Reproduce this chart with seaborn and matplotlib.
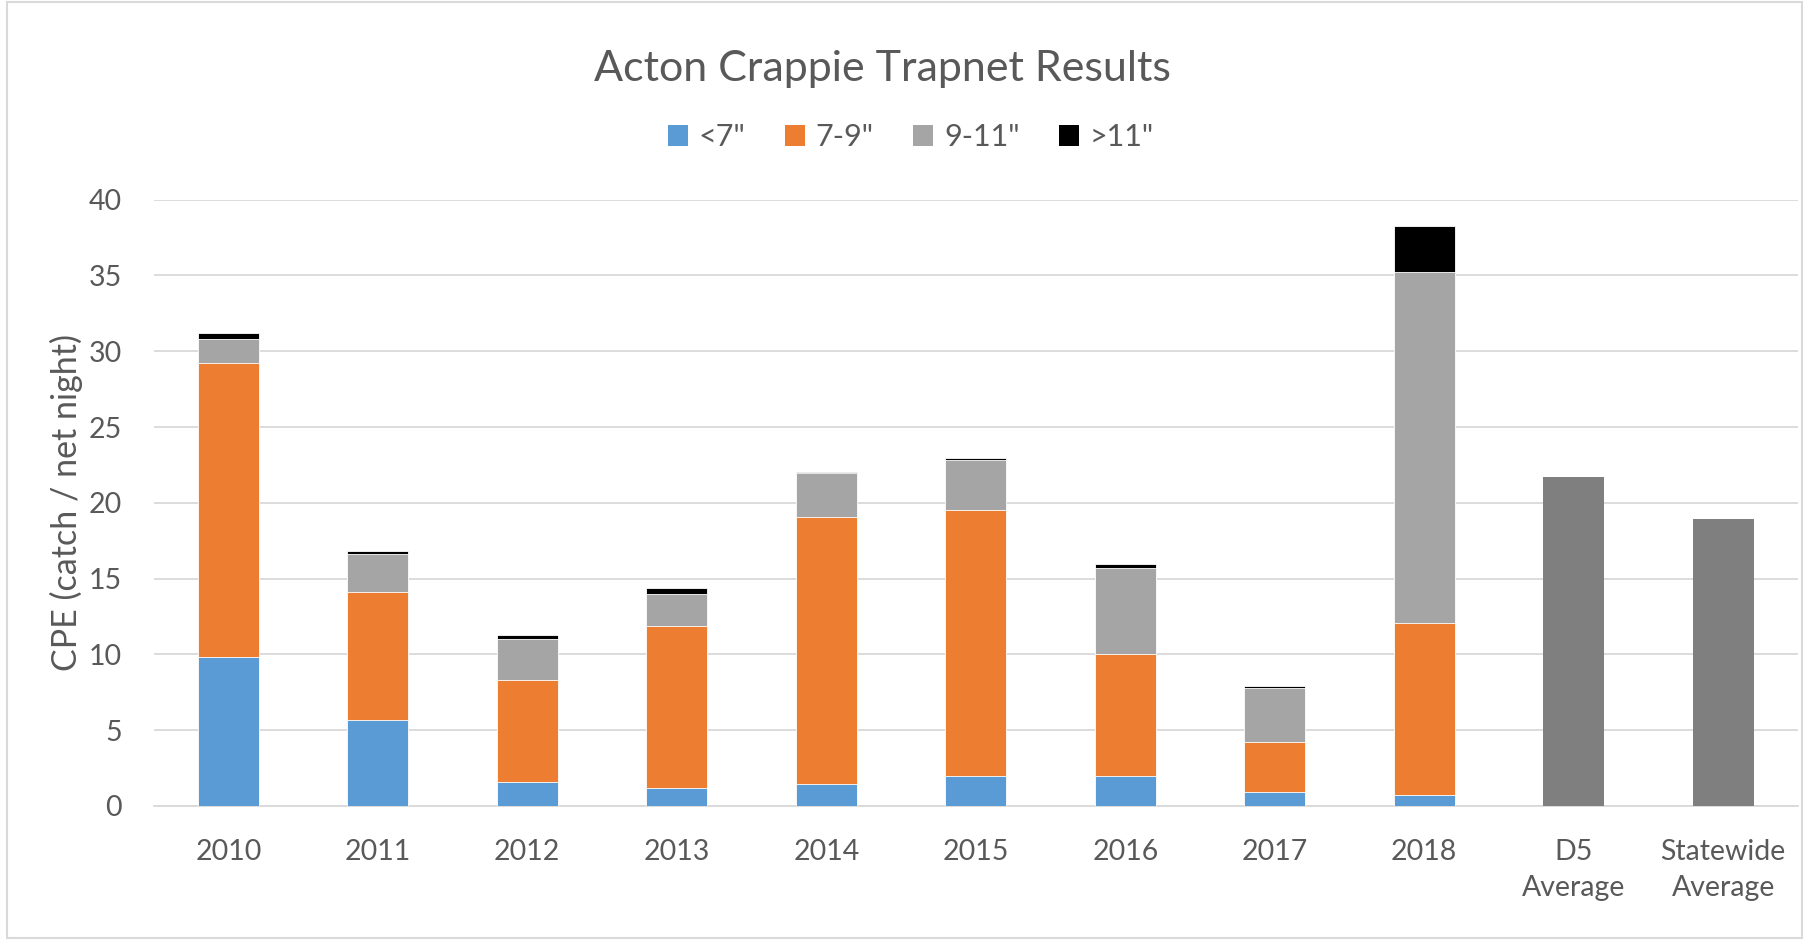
import numpy as np
import pandas as pd
import matplotlib
matplotlib.use("Agg")
import matplotlib.pyplot as plt
from matplotlib.patches import Patch, Rectangle
import seaborn as sns

categories = ["2010", "2011", "2012", "2013", "2014", "2015", "2016", "2017", "2018",
              "D5\nAverage", "Statewide\nAverage"]
years = ["2010", "2011", "2012", "2013", "2014", "2015", "2016", "2017", "2018"]
under7 = [9.8, 5.7, 1.6, 1.2, 1.45, 2.0, 2.0, 0.9, 0.7]
s7_9 = [19.4, 8.4, 6.7, 10.7, 17.6, 17.55, 8.0, 3.3, 11.35]
s9_11 = [1.6, 2.5, 2.7, 2.1, 2.9, 3.3, 5.7, 3.6, 23.2]
over11 = [0.4, 0.2, 0.25, 0.35, 0.08, 0.1, 0.25, 0.14, 3.0]
avg_labels = ["D5\nAverage", "Statewide\nAverage"]
avg_values = [21.7, 18.95]

series_names = ['<7"', '7-9"', '9-11"', '>11"']
series_vals = [under7, s7_9, s9_11, over11]
colors = ["#5b9bd5", "#ed7d31", "#a5a5a5", "#000000"]
avg_color = "#7f7f7f"
text_color = "#595959"
grid_color = "#d9d9d9"

sns.set_theme(style="white")
plt.rcParams['font.family'] = ['Lato', 'DejaVu Sans']

fig = plt.figure(figsize=(18.11, 9.40), dpi=100)
ax = fig.add_axes([0.0848, 0.1426, 0.9080, 0.645])

cum = np.cumsum(np.array(series_vals), axis=0)
bar_w = 0.41
# draw from top layer to bottom so lower layers overlay
for i in range(len(series_names) - 1, -1, -1):
    df = pd.DataFrame({"category": years, "value": cum[i]})
    sns.barplot(data=df, x="category", y="value", order=categories, color=colors[i],
                saturation=1, errorbar=None, width=bar_w, ax=ax,
                edgecolor="white", linewidth=0.6, zorder=3)

df_avg = pd.DataFrame({"category": avg_labels, "value": avg_values})
sns.barplot(data=df_avg, x="category", y="value", order=categories, color=avg_color,
            saturation=1, errorbar=None, width=bar_w, ax=ax, linewidth=0, zorder=3)

ax.set_ylim(0, 40)
ax.set_xlim(-0.5, len(categories) - 0.5)
ax.set_yticks(range(0, 41, 5))
ax.yaxis.grid(True, color=grid_color, linewidth=1.3, zorder=0)
ax.set_axisbelow(True)
for s in ["top", "right", "left"]:
    ax.spines[s].set_visible(False)
ax.spines["bottom"].set_color(grid_color)
ax.spines["bottom"].set_linewidth(1.3)
ax.tick_params(axis="both", length=0, colors=text_color)
ax.tick_params(axis="x", pad=24, labelsize=20.5)
ax.tick_params(axis="y", pad=23, labelsize=20.5)
for lbl in ax.get_xticklabels():
    lbl.set_linespacing(1.45)
ax.set_xlabel("")
ax.set_ylabel("CPE (catch / net night)", color=text_color, fontsize=24.5, labelpad=4)

fig.text(0.4875, 0.927, "Acton Crappie Trapnet Results", ha="center", va="center",
         fontsize=31, color=text_color)

handles = [Patch(facecolor=c, edgecolor="none", label=n) for c, n in zip(colors, series_names)]
leg = fig.legend(handles=handles, loc="center", bbox_to_anchor=(0.503, 0.854), ncol=4,
                 frameon=False, fontsize=22, handlelength=0.65, handleheight=0.65,
                 handletextpad=0.35, columnspacing=1.3)
for t in leg.get_texts():
    t.set_color(text_color)

fig.patches.append(Rectangle((0.0039, 0.002), 0.9911, 0.996, transform=fig.transFigure,
                             fill=False, edgecolor="#d9d9d9", linewidth=1.5))

fig.savefig("out.png", dpi=100, facecolor="white")
